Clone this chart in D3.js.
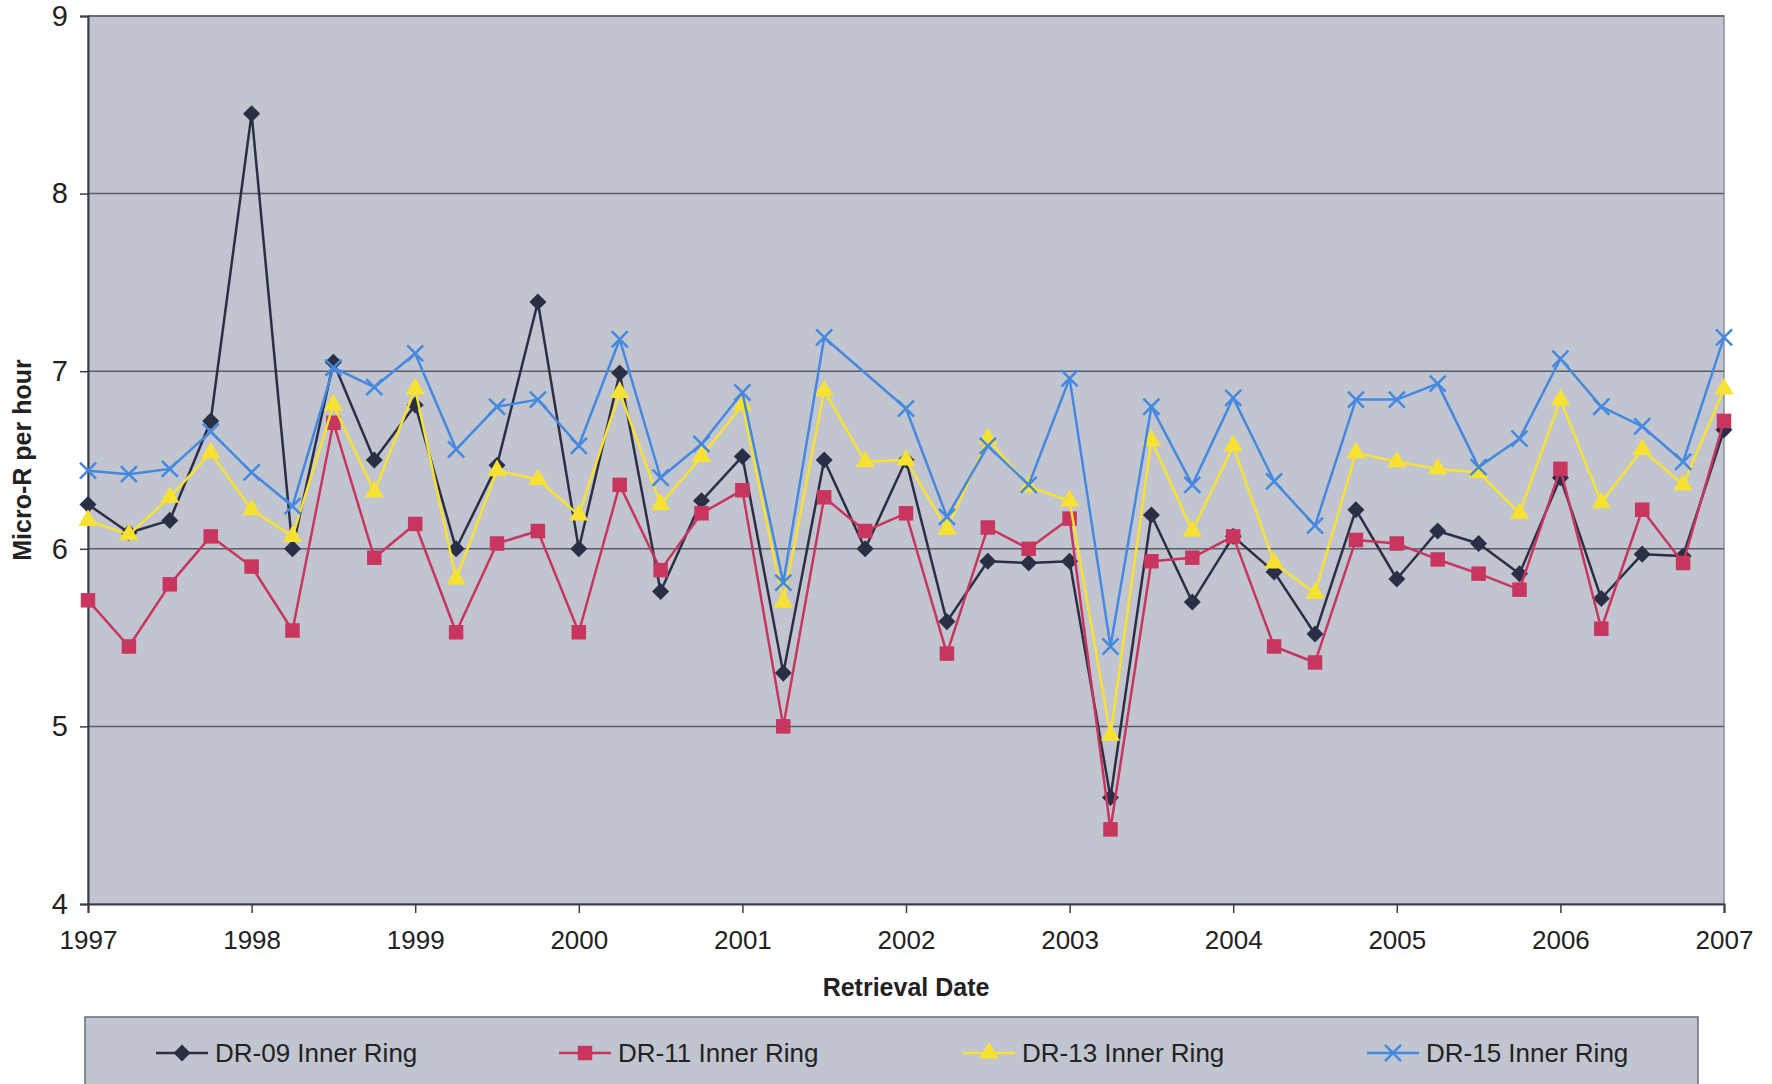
<!DOCTYPE html>
<html>
<head>
<meta charset="utf-8">
<script src="https://cdn.jsdelivr.net/npm/d3@7"></script>
<style>
  body { margin: 0; background: #fff; }
  svg { display: block; font-family: "Liberation Sans", Arial, sans-serif; }
</style>
</head>
<body>
<div id="chart"></div>
<script>
// retrieval dates (decimal years, quarterly)
const dates = [1997, 1997.25, 1997.5, 1997.75, 1998, 1998.25, 1998.5, 1998.75,
  1999, 1999.25, 1999.5, 1999.75, 2000, 2000.25, 2000.5, 2000.75,
  2001, 2001.25, 2001.5, 2001.75, 2002, 2002.25, 2002.5, 2002.75,
  2003, 2003.25, 2003.5, 2003.75, 2004, 2004.25, 2004.5, 2004.75,
  2005, 2005.25, 2005.5, 2005.75, 2006, 2006.25, 2006.5, 2006.75, 2007];

const dr09 = [6.25, 6.09, 6.16, 6.72, 8.45, 6.00, 7.05, 6.50, 6.81, 6.00, 6.47, 7.39, 6.00,
  6.99, 5.76, 6.27, 6.52, 5.30, 6.50, 6.00, 6.50, 5.59, 5.93, 5.92, 5.93, 4.60, 6.19,
  5.70, 6.07, 5.87, 5.52, 6.22, 5.83, 6.10, 6.03, 5.86, 6.40, 5.72, 5.97, 5.96, 6.67];
const dr11 = [5.71, 5.45, 5.80, 6.07, 5.90, 5.54, 6.71, 5.95, 6.14, 5.53, 6.03, 6.10, 5.53,
  6.36, 5.88, 6.20, 6.33, 5.00, 6.29, 6.10, 6.20, 5.41, 6.12, 6.00, 6.17, 4.42, 5.93,
  5.95, 6.07, 5.45, 5.36, 6.05, 6.03, 5.94, 5.86, 5.77, 6.45, 5.55, 6.22, 5.92, 6.72];
const dr13 = [6.16, 6.08, 6.29, 6.54, 6.22, 6.07, 6.81, 6.32, 6.90, 5.83, 6.44, 6.39, 6.19,
  6.88, 6.25, 6.52, 6.81, 5.70, 6.89, 6.49, 6.50, 6.11, 6.62, 6.35, 6.27, 4.95, 6.61,
  6.10, 6.58, 5.92, 5.75, 6.54, 6.49, 6.45, 6.43, 6.20, 6.84, 6.26, 6.56, 6.36, 6.90];
const dr15 = [6.44, 6.42, 6.45, 6.66, 6.43, 6.24, 7.02, 6.91, 7.10, 6.56, 6.80, 6.84, 6.58,
  7.18, 6.40, 6.59, 6.88, 5.81, 7.19, null, 6.79, 6.18, 6.58, 6.36, 6.96, 5.45, 6.80,
  6.36, 6.85, 6.38, 6.13, 6.84, 6.84, 6.93, 6.46, 6.62, 7.07, 6.80, 6.69, 6.49, 7.19];

const seriesNames = ['DR-09 Inner Ring', 'DR-11 Inner Ring', 'DR-13 Inner Ring', 'DR-15 Inner Ring'];
const yearTicks = [1997, 1998, 1999, 2000, 2001, 2002, 2003, 2004, 2005, 2006, 2007];
const valueTicks = [4, 5, 6, 7, 8, 9];

const W = 1772, H = 1084;
const margin = { top: 16, right: 48, bottom: 180, left: 88 };
const width = W - margin.left - margin.right;
const height = H - margin.top - margin.bottom;

const series = [
  { name: seriesNames[0], values: dr09, color: '#2a2f45', marker: 'diamond' },
  { name: seriesNames[1], values: dr11, color: '#c8355f', marker: 'square' },
  { name: seriesNames[2], values: dr13, color: '#f7e233', marker: 'triangle' },
  { name: seriesNames[3], values: dr15, color: '#4588e0', marker: 'cross' }
];

const svg = d3.select('#chart').append('svg')
  .attr('width', W)
  .attr('height', H);

const g = svg.append('g')
  .attr('transform', `translate(${margin.left},${margin.top})`);

const x = d3.scaleLinear().domain([1997, 2007]).range([0, width]);
const y = d3.scaleLinear().domain([4, 9]).range([height, 0]);

// plot area
g.append('rect')
  .attr('width', width)
  .attr('height', height)
  .attr('fill', '#c1c5d0')
  .attr('stroke', '#8a8d96')
  .attr('stroke-width', 1.5);

// gridlines
g.append('g')
  .selectAll('line')
  .data(valueTicks.slice(1))
  .enter().append('line')
  .attr('x1', 0).attr('x2', width)
  .attr('y1', d => y(d)).attr('y2', d => y(d))
  .attr('stroke', '#5a5d66')
  .attr('stroke-width', 1.5);

// axes
const xAxis = g.append('g')
  .attr('transform', `translate(0,${height})`)
  .call(d3.axisBottom(x).tickValues(yearTicks).tickFormat(d3.format('d')).tickSize(9).tickPadding(18));
const yAxis = g.append('g')
  .call(d3.axisLeft(y).tickValues(valueTicks).tickFormat(d3.format('d')).tickSize(8).tickPadding(12));

[xAxis, yAxis].forEach(a => {
  a.select('.domain').attr('stroke', '#3a3d48').attr('stroke-width', 2);
  a.selectAll('.tick line').attr('stroke', '#3a3d48').attr('stroke-width', 1.5);
  a.selectAll('.tick text').attr('fill', '#222').style('font-size', '26px')
    .style('font-family', '"Liberation Sans", Arial, sans-serif');
});
yAxis.selectAll('.tick text').style('font-size', '29px');

// lines
const line = d3.line()
  .x(d => x(d.date))
  .y(d => y(d.value));

const symbolFor = {
  diamond: d3.symbol().type(d3.symbolSquare).size(145),
  square: d3.symbol().type(d3.symbolSquare).size(210),
  triangle: d3.symbol().type(d3.symbolTriangle).size(160),
  cross: d3.symbol().type(d3.symbolTimes).size(170)
};
const rot = m => (m === 'diamond' ? ' rotate(45)' : '');

series.forEach(s => {
  const pts = dates.map((d, i) => ({ date: d, value: s.values[i] }))
    .filter(p => p.value !== null);

  g.append('path')
    .datum(pts)
    .attr('fill', 'none')
    .attr('stroke', s.color)
    .attr('stroke-width', 2.5)
    .attr('stroke-linejoin', 'round')
    .attr('d', line);

  g.selectAll(null)
    .data(pts)
    .enter().append('path')
    .attr('transform', p => `translate(${x(p.date)},${y(p.value)})` + rot(s.marker))
    .attr('d', symbolFor[s.marker])
    .attr('fill', s.marker === 'cross' ? 'none' : s.color)
    .attr('stroke', s.color)
    .attr('stroke-width', s.marker === 'cross' ? 2.5 : 0);
});

// axis titles
svg.append('text')
  .attr('x', margin.left + width / 2)
  .attr('y', 996)
  .attr('text-anchor', 'middle')
  .style('font-size', '25px')
  .style('font-weight', 'bold')
  .attr('fill', '#222')
  .text('Retrieval Date');

svg.append('text')
  .attr('transform', `translate(31,${margin.top + height / 2}) rotate(-90)`)
  .attr('text-anchor', 'middle')
  .style('font-size', '25px')
  .style('font-weight', 'bold')
  .attr('fill', '#222')
  .text('Micro-R per hour');

// legend
const legend = svg.append('g');
legend.append('rect')
  .attr('x', 85).attr('y', 1017)
  .attr('width', 1613).attr('height', 80)
  .attr('fill', '#c1c5d0')
  .attr('stroke', '#6a6d76')
  .attr('stroke-width', 1.5);

const legendX = [156, 559, 963, 1367];
series.forEach((s, i) => {
  const lg = legend.append('g').attr('transform', `translate(${legendX[i]},1053)`);
  lg.append('line')
    .attr('x1', 0).attr('x2', 52)
    .attr('stroke', s.color).attr('stroke-width', 2.5);
  lg.append('path')
    .attr('transform', 'translate(26,0)' + rot(s.marker))
    .attr('d', symbolFor[s.marker])
    .attr('fill', s.marker === 'cross' ? 'none' : s.color)
    .attr('stroke', s.color)
    .attr('stroke-width', s.marker === 'cross' ? 2.5 : 0);
  lg.append('text')
    .attr('x', 59).attr('y', 9)
    .style('font-size', '26px')
    .attr('fill', '#222')
    .text(s.name);
});
</script>
</body>
</html>
